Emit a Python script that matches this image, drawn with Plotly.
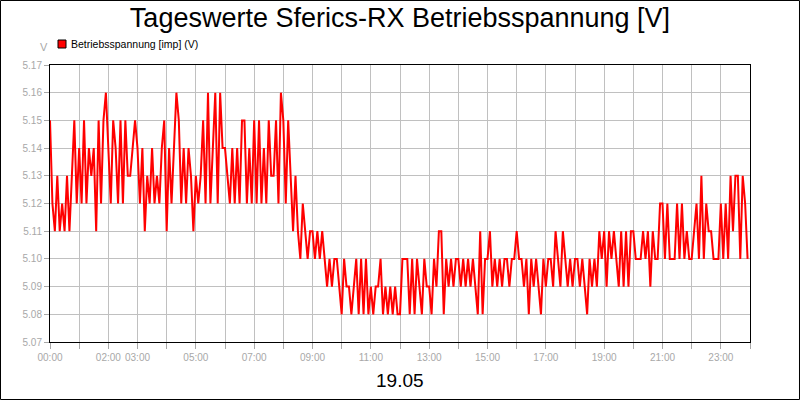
import plotly.graph_objects as go

# Daily values, 5-minute samples, one list per 6 hours.
v_00_06 = [
	5.15, 5.12, 5.11, 5.13, 5.11, 5.12, 5.11, 5.13, 5.11, 5.13, 5.15, 5.12,
	5.14, 5.12, 5.15, 5.12, 5.14, 5.13, 5.14, 5.11, 5.15, 5.12, 5.15, 5.16,
	5.14, 5.12, 5.15, 5.14, 5.12, 5.15, 5.12, 5.15, 5.13, 5.13, 5.14, 5.15,
	5.14, 5.12, 5.14, 5.11, 5.13, 5.12, 5.14, 5.12, 5.13, 5.12, 5.14, 5.15,
	5.11, 5.14, 5.12, 5.14, 5.16, 5.15, 5.12, 5.14, 5.12, 5.14, 5.13, 5.11,
	5.13, 5.12, 5.13, 5.15, 5.12, 5.16, 5.12, 5.14, 5.16, 5.12, 5.16, 5.14,
]
v_06_12 = [
	5.14, 5.13, 5.12, 5.14, 5.12, 5.14, 5.12, 5.15, 5.15, 5.12, 5.14, 5.12,
	5.15, 5.12, 5.15, 5.12, 5.14, 5.12, 5.15, 5.13, 5.13, 5.15, 5.12, 5.16,
	5.15, 5.12, 5.15, 5.13, 5.11, 5.13, 5.11, 5.10, 5.12, 5.11, 5.10, 5.11,
	5.11, 5.10, 5.11, 5.10, 5.11, 5.10, 5.09, 5.10, 5.09, 5.10, 5.10, 5.09,
	5.08, 5.10, 5.09, 5.09, 5.08, 5.09, 5.10, 5.08, 5.10, 5.08, 5.10, 5.08,
	5.09, 5.08, 5.09, 5.09, 5.10, 5.08, 5.09, 5.08, 5.09, 5.08, 5.09, 5.08,
]
v_12_18 = [
	5.08, 5.10, 5.10, 5.10, 5.08, 5.10, 5.08, 5.10, 5.09, 5.08, 5.10, 5.09,
	5.09, 5.08, 5.10, 5.09, 5.11, 5.11, 5.08, 5.10, 5.09, 5.10, 5.09, 5.10,
	5.10, 5.09, 5.10, 5.09, 5.10, 5.09, 5.10, 5.09, 5.08, 5.11, 5.08, 5.10,
	5.10, 5.11, 5.09, 5.10, 5.09, 5.10, 5.09, 5.10, 5.10, 5.09, 5.10, 5.10,
	5.11, 5.10, 5.10, 5.09, 5.10, 5.08, 5.10, 5.09, 5.10, 5.09, 5.08, 5.10,
	5.09, 5.10, 5.10, 5.09, 5.11, 5.10, 5.09, 5.11, 5.10, 5.09, 5.10, 5.09,
]
v_18_24 = [
	5.10, 5.10, 5.09, 5.10, 5.09, 5.08, 5.10, 5.09, 5.10, 5.09, 5.11, 5.10,
	5.11, 5.09, 5.11, 5.10, 5.11, 5.10, 5.09, 5.11, 5.09, 5.11, 5.09, 5.11,
	5.11, 5.10, 5.10, 5.10, 5.11, 5.10, 5.11, 5.09, 5.11, 5.10, 5.10, 5.12,
	5.12, 5.10, 5.12, 5.10, 5.10, 5.10, 5.12, 5.10, 5.12, 5.10, 5.11, 5.10,
	5.10, 5.11, 5.12, 5.10, 5.13, 5.10, 5.12, 5.11, 5.11, 5.10, 5.10, 5.10,
	5.12, 5.10, 5.12, 5.10, 5.13, 5.11, 5.13, 5.13, 5.10, 5.13, 5.12, 5.10,
]
values = v_00_06 + v_06_12 + v_12_18 + v_18_24
minutes = [i * 5 for i in range(len(values))]

hour_ticks = list(range(0, 1441, 60))
hour_labels = ['00:00', '', '02:00', '03:00', '', '05:00', '', '07:00', '',
	'09:00', '', '11:00', '', '13:00', '', '15:00', '', '17:00', '', '19:00',
	'', '21:00', '', '23:00', '']
y_ticks = [5.07, 5.08, 5.09, 5.10, 5.11, 5.12, 5.13, 5.14, 5.15, 5.16, 5.17]

grey = '#a8a8a8'
fig = go.Figure()
fig.add_trace(
	go.Scatter(
		x=minutes,
		y=values,
		mode='lines',
		line=dict(color='#ff0000', width=2),
		name='Betriebsspannung [imp] (V)',
	),
)

fig.update_layout(
	width=800,
	height=400,
	margin=dict(l=50, r=50, t=65, b=58, autoexpand=False),
	paper_bgcolor='white',
	plot_bgcolor='white',
	showlegend=False,
	font=dict(family='Liberation Sans, Arial', color='black'),
	title=dict(
		text='Tageswerte Sferics-RX Betriebsspannung [V]',
		x=0.5, xanchor='center', y=0.955, yanchor='middle',
		font=dict(size=27, color='black'),
	),
)
fig.update_xaxes(
	range=[0, 1440],
	automargin=False,
	tickvals=hour_ticks,
	ticktext=hour_labels,
	tickangle=0,
	tickfont=dict(size=10, color=grey),
	ticks='outside', ticklen=6, tickcolor=grey,
	showgrid=True, gridcolor='#c0c0c0', gridwidth=1,
	showline=True, linecolor='black', linewidth=1, mirror=True,
	zeroline=False,
)
fig.update_yaxes(
	range=[5.07, 5.17],
	automargin=False,
	tickvals=y_ticks,
	tickformat='.2f',
	tickfont=dict(size=10, color=grey),
	ticks='outside', ticklen=5, tickcolor=grey,
	showgrid=True, gridcolor='#c0c0c0', gridwidth=1,
	showline=True, linecolor='black', linewidth=1, mirror=True,
	zeroline=False,
)

# Legend, unit label, date and outer frame.
fig.add_shape(type='rect', xref='paper', yref='paper',
	x0=-0.0707, x1=1.0707, y0=-0.2076, y1=1.2329,
	line=dict(color='black', width=1), layer='below')
fig.add_shape(type='rect', xref='paper', yref='paper',
	x0=(58 - 50) / 700, x1=(66 - 50) / 700,
	y0=(342 - 48) / 277, y1=(342 - 40) / 277,
	fillcolor='#ff0000', line=dict(color='black', width=1))
fig.add_annotation(text='Betriebsspannung [imp] (V)', xref='paper', yref='paper',
	x=(69 - 50) / 700, y=(342 - 44) / 277, xanchor='left', yanchor='middle',
	showarrow=False, font=dict(size=10.5, color='black'))
fig.add_annotation(text='V', xref='paper', yref='paper',
	x=(44 - 50) / 700, y=(342 - 47) / 277, xanchor='center', yanchor='middle',
	showarrow=False, font=dict(size=11, color=grey))
fig.add_annotation(text='19.05', xref='paper', yref='paper',
	x=0.5, y=(342 - 380) / 277, xanchor='center', yanchor='middle',
	showarrow=False, font=dict(size=19, color='black'))

# Drop the default page margin so the 800x400 figure fills the window.
fig.write_html('out.html', config={'displayModeBar': False},
	post_script="document.body.style.margin='0';")
